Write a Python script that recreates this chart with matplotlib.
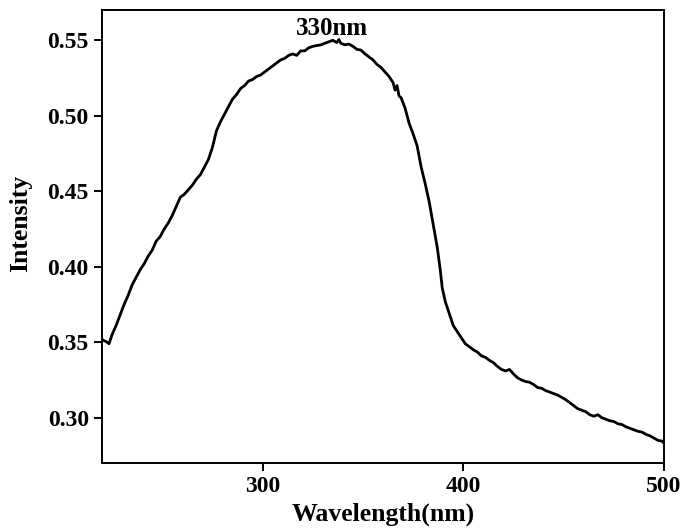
import matplotlib
matplotlib.use('Agg')
import matplotlib.pyplot as plt
from matplotlib.ticker import FormatStrFormatter

# wavelength (nm) and intensity
wavelength = [
    220, 221, 222, 223.5, 225, 227, 229, 231, 233, 235, 237, 239, 241, 243,
    245, 247, 249, 251, 253, 255, 257, 259, 261, 263, 265, 267, 269, 271,
    273, 275, 277, 279, 281, 283, 285, 287, 289, 291, 293, 295, 297, 299,
    301, 303, 305, 307, 309, 311, 313, 315, 317, 319, 321, 323, 325, 327,
    329, 331, 333, 335, 337, 338, 339, 341, 343, 345, 347, 349, 351, 353,
    355, 357, 359, 361, 363, 365, 366, 367, 368, 369, 371, 373, 375, 377,
    379, 381, 383, 385, 387, 388.5, 389.5, 391, 393, 395, 397, 399, 401,
    403, 405, 407, 409, 411, 413, 415, 417, 419, 421, 423, 425, 427, 429,
    431, 433, 435, 437, 439, 441, 443, 445, 447, 449, 451, 453, 455, 457,
    459, 461, 463, 465, 467, 469, 471, 473, 475, 477, 479, 481, 483, 485,
    487, 489, 491, 493, 495, 497, 499, 500,
]
intensity = [
    0.352, 0.351, 0.3505, 0.349, 0.355, 0.361, 0.368, 0.375, 0.381, 0.388,
    0.393, 0.398, 0.402, 0.407, 0.411, 0.417, 0.420, 0.425, 0.429, 0.434,
    0.440, 0.446, 0.448, 0.451, 0.454, 0.458, 0.461, 0.466, 0.471, 0.479,
    0.490, 0.496, 0.501, 0.506, 0.511, 0.514, 0.518, 0.520, 0.523, 0.524,
    0.526, 0.527, 0.529, 0.531, 0.533, 0.535, 0.537, 0.538, 0.540, 0.541,
    0.540, 0.543, 0.543, 0.545, 0.546, 0.5465, 0.547, 0.548, 0.549, 0.550,
    0.5485, 0.5505, 0.548, 0.547, 0.5475, 0.546, 0.544, 0.5435, 0.541, 0.539,
    0.537, 0.534, 0.532, 0.529, 0.526, 0.522, 0.517, 0.520, 0.513, 0.512,
    0.505, 0.495, 0.488, 0.480, 0.466, 0.455, 0.443, 0.428, 0.413, 0.398,
    0.386, 0.377, 0.369, 0.361, 0.357, 0.353, 0.349, 0.347, 0.345, 0.3435,
    0.341, 0.340, 0.338, 0.3365, 0.334, 0.332, 0.331, 0.332, 0.329, 0.3265,
    0.325, 0.324, 0.3235, 0.322, 0.320, 0.3195, 0.318, 0.317, 0.316, 0.315,
    0.3135, 0.312, 0.310, 0.308, 0.306, 0.305, 0.304, 0.302, 0.301, 0.302,
    0.300, 0.299, 0.298, 0.2975, 0.296, 0.2955, 0.294, 0.293, 0.292, 0.291,
    0.2905, 0.289, 0.288, 0.2865, 0.285, 0.2845, 0.283,
]

peak_label = '330nm'
peak_pos = (334.7, 0.5575)

plt.rcParams['font.family'] = ['Liberation Serif', 'DejaVu Serif']
plt.rcParams['font.weight'] = 'bold'

fig = plt.figure(figsize=(6.86, 5.31), dpi=100)
ax = fig.add_axes([0.1487, 0.128, 0.8193, 0.853])

ax.plot(wavelength, intensity, color='black', linewidth=2.0)
ax.text(peak_pos[0], peak_pos[1], peak_label, ha='center', va='center',
        fontsize=18, fontweight='bold')

ax.set_xlim(220, 500)
ax.set_ylim(0.27, 0.57)
ax.set_xticks([300, 400, 500])
ax.set_yticks([0.30, 0.35, 0.40, 0.45, 0.50, 0.55])
ax.yaxis.set_major_formatter(FormatStrFormatter('%.2f'))

ax.tick_params(axis='both', direction='out', length=5.5, width=1.4,
               labelsize=17)
ax.tick_params(axis='x', pad=4)
ax.tick_params(axis='y', pad=4)
for lab in ax.get_xticklabels() + ax.get_yticklabels():
    lab.set_fontweight('bold')
for sp in ax.spines.values():
    sp.set_linewidth(1.4)

ax.set_xlabel('Wavelength(nm)', fontsize=18.5, fontweight='bold', labelpad=4)
ax.set_ylabel('Intensity', fontsize=18.5, fontweight='bold')
ax.yaxis.set_label_coords(-0.125, 0.53)

fig.savefig('out.png', dpi=100)
